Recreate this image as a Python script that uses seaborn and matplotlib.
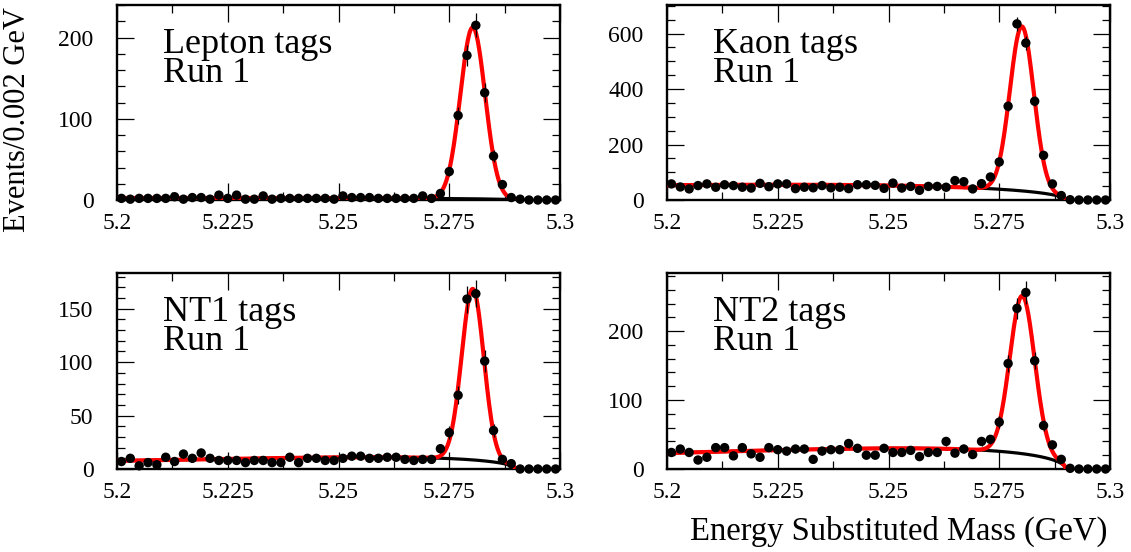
import numpy as np
import pandas as pd
import matplotlib
matplotlib.use("Agg")
import matplotlib.pyplot as plt
import seaborn as sns
from matplotlib.ticker import MultipleLocator, FuncFormatter

sns.set_theme(style="ticks")
plt.rcParams["font.family"] = ["Liberation Serif", "DejaVu Serif"]
plt.rcParams["text.color"] = "black"
plt.rcParams["axes.labelcolor"] = "black"
plt.rcParams["xtick.color"] = "black"
plt.rcParams["ytick.color"] = "black"

# 50 bins of 0.002 GeV between 5.2 and 5.3 GeV
BIN_WIDTH = 0.002
mass_bins = np.round(5.201 + BIN_WIDTH * np.arange(50), 3)

lepton_counts = [2, 1, 2, 2, 2, 2, 4, 1, 3, 3,
                 1, 6, 2, 6, 1, 1, 5, 1, 2, 2,
                 2, 2, 2, 2, 1, 5, 3, 3, 3, 2,
                 2, 2, 2, 2, 5, 2, 8, 35, 104, 178,
                 215, 132, 54, 19, 3, 1, 0, 0, 0, 0]
kaon_counts = [58, 47, 40, 52, 58, 46, 55, 52, 46, 43,
               60, 48, 58, 58, 41, 46, 44, 52, 44, 46,
               41, 55, 55, 53, 42, 61, 43, 49, 35, 49,
               49, 46, 70, 66, 40, 59, 83, 137, 338, 635,
               566, 356, 161, 58, 16, 1, 0, 0, 0, 0]
nt1_counts = [7, 10, 3, 6, 4, 11, 7, 14, 10, 15,
              10, 8, 8, 8, 6, 8, 8, 6, 6, 11,
              6, 10, 10, 8, 8, 10, 12, 12, 10, 10,
              11, 11, 9, 8, 9, 9, 19, 34, 69, 159,
              164, 101, 36, 9, 5, 0, 0, 0, 0, 0]
nt2_counts = [24, 29, 24, 13, 17, 31, 31, 19, 31, 22,
              17, 31, 28, 26, 29, 29, 14, 26, 28, 28,
              37, 30, 20, 20, 30, 24, 24, 27, 18, 24,
              24, 40, 23, 29, 21, 40, 43, 68, 153, 233,
              256, 157, 63, 35, 14, 1, 0, 0, 0, 0]

panel_titles = ["Lepton tags", "Kaon tags", "NT1 tags", "NT2 tags"]
run_label = "Run 1"

# Fit results: Gaussian signal + ARGUS background (heights in events per bin)
signal_height = [211, 593, 160, 229]
signal_mean = [5.2803, 5.2801, 5.2803, 5.2802]
signal_sigma = [0.0028, 0.0027, 0.0025, 0.0028]
background_height = [2.5, 55, 11, 30]
argus_shape = [-20, -20, -40, -35]
ARGUS_ENDPOINT = 5.29

y_top = [240, 703, 183.4, 284.3]
y_major = [100, 200, 50, 100]
y_minor = [20, 50, 10, 20]

all_counts = [lepton_counts, kaon_counts, nt1_counts, nt2_counts]


def argus(m, c):
    u = np.clip(1.0 - (m / ARGUS_ENDPOINT) ** 2, 0, None)
    return m * np.sqrt(u) * np.exp(c * u)


fig = plt.figure(figsize=(11.31, 5.52), dpi=100)
W, H = 1131, 552
boxes = [(117, 5, 560, 200), (667, 5, 1110, 200),
         (117, 273, 560, 469), (667, 273, 1110, 469)]

m_curve = np.linspace(5.2, ARGUS_ENDPOINT, 600)
m_norm = np.linspace(5.2, ARGUS_ENDPOINT, 2000)

for i, (x0, y0, x1, y1) in enumerate(boxes):
    ax = fig.add_axes([x0 / W, 1 - y1 / H, (x1 - x0) / W, (y1 - y0) / H])
    counts = np.asarray(all_counts[i], dtype=float)

    bkg = background_height[i] * argus(m_curve, argus_shape[i]) / argus(m_norm, argus_shape[i]).max()
    sig = signal_height[i] * np.exp(-0.5 * ((m_curve - signal_mean[i]) / signal_sigma[i]) ** 2)
    curves = pd.DataFrame({"mass": m_curve, "background": bkg, "total": bkg + sig})

    sns.lineplot(data=curves, x="mass", y="background", ax=ax, color="black",
                 lw=2.3, sort=False, estimator=None, zorder=2)
    sns.lineplot(data=curves, x="mass", y="total", ax=ax, color="#ff0000",
                 lw=3.0, sort=False, estimator=None, zorder=3)

    ax.errorbar(mass_bins, counts, yerr=np.sqrt(counts), fmt="none",
                ecolor="black", elinewidth=0.9, zorder=4)
    points = pd.DataFrame({"mass": mass_bins, "events": counts})
    sns.scatterplot(data=points, x="mass", y="events", ax=ax, color="black",
                    s=46, edgecolor="none", zorder=5, clip_on=False)

    ax.set_xlim(5.2, 5.3)
    ax.set_ylim(0, y_top[i])
    ax.set_xlabel("")
    ax.set_ylabel("")
    ax.xaxis.set_major_locator(MultipleLocator(0.025))
    ax.xaxis.set_minor_locator(MultipleLocator(0.0125))
    ax.yaxis.set_major_locator(MultipleLocator(y_major[i]))
    ax.yaxis.set_minor_locator(MultipleLocator(y_minor[i]))
    ax.xaxis.set_major_formatter(FuncFormatter(lambda v, p: f"{v:g}"))
    ax.yaxis.set_major_formatter(FuncFormatter(lambda v, p: f"{v:g}"))
    ax.tick_params(which="both", direction="in", top=True, right=True,
                   colors="black", width=0.9, labelsize=17)
    ax.tick_params(which="major", length=12)
    ax.tick_params(which="minor", length=6)
    ax.tick_params(axis="x", pad=9)
    ax.tick_params(axis="y", pad=17)
    for side in ax.spines.values():
        side.set_linewidth(1.7)
        side.set_color("black")

    ax.text(0.103, 0.605, f"{panel_titles[i]}\n{run_label}", transform=ax.transAxes,
            fontsize=26, va="baseline", ha="left", linespacing=0.85, color="black")

fig.text(18 / W, 1 - 120 / H, "Events/0.002 GeV", rotation=90,
         ha="center", va="center", fontsize=22, color="black")
fig.text(1107 / W, 1 - 540 / H, "Energy Substituted Mass (GeV)",
         ha="right", va="baseline", fontsize=23.5, color="black")

fig.savefig("out.png", dpi=100)
